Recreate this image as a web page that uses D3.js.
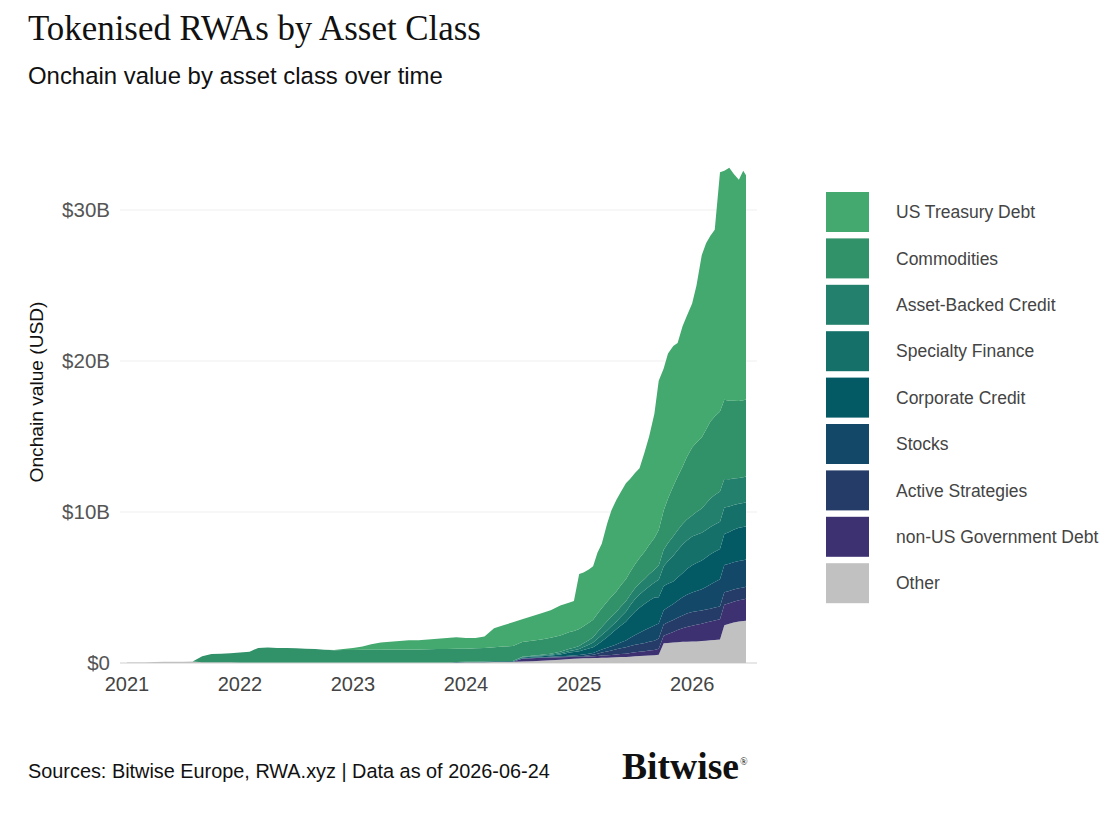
<!DOCTYPE html>
<html><head><meta charset="utf-8">
<script src="https://cdn.jsdelivr.net/npm/d3@7"></script>
<style>body{margin:0;background:#fff;} svg{display:block}</style>
</head><body>
<svg id="chart" width="1117" height="817"></svg>
<script>
// ---- DATA (values in $B) ----
const dates = [
"2021-01-01","2021-02-01","2021-03-01","2021-04-01","2021-05-01","2021-06-01","2021-07-01","2021-08-01","2021-09-01","2021-10-01","2021-11-01","2021-12-01",
"2022-01-01","2022-02-01","2022-03-01","2022-04-01","2022-05-01","2022-06-01","2022-07-01","2022-08-01","2022-09-01","2022-10-01","2022-11-01","2022-12-01",
"2023-01-01","2023-02-01","2023-03-01","2023-04-01","2023-05-01","2023-06-01","2023-07-01","2023-08-01","2023-09-01","2023-10-01","2023-11-01","2023-12-01",
"2024-01-01","2024-02-01","2024-03-01","2024-04-01","2024-05-01","2024-06-01","2024-07-01","2024-08-01","2024-09-01","2024-10-01","2024-11-01",
"2024-12-01","2024-12-15",
"2025-01-01","2025-01-15","2025-02-01","2025-02-15","2025-03-01","2025-03-15","2025-04-01","2025-04-15","2025-05-01","2025-05-15","2025-06-01","2025-06-15",
"2025-07-01","2025-07-15","2025-08-01","2025-08-15","2025-09-01","2025-09-15","2025-10-01","2025-10-15","2025-11-01","2025-11-15","2025-12-01","2025-12-15",
"2026-01-01","2026-01-15","2026-02-01","2026-02-15","2026-03-01","2026-03-15","2026-04-01","2026-04-15","2026-05-01","2026-05-15","2026-06-01","2026-06-15",
"2026-06-24"];

const other = [
.03,.03,.04,.07,.08,.08,.09,.10,.05,.05,.05,.05,
.04,.04,.04,.04,.04,.04,.04,.04,.04,.04,.04,.04,
.04,.04,.04,.04,.04,.04,.04,.04,.04,.04,.04,.04,
.05,.05,.05,.06,.07,.08,.10,.12,.15,.18,.22,
.26,.28,
.30,.31,.32,.33,.33,.34,.35,.36,.38,.39,.40,.42,
.45,.46,.48,.50,.52,.55,1.30,1.32,1.35,1.38,1.40,1.41,
1.42,1.43,1.45,1.48,1.50,1.52,1.55,2.50,2.60,2.68,2.75,2.78,
2.80];
const nonUSGov = [
0,0,0,0,0,0,0,0,0,0,0,0,
0,0,0,0,0,0,0,0,0,0,0,0,
0,0,0,0,0,0,0,0,0,0,0,0,
0,0,0,0,0,0,.18,.19,.19,.18,.16,
.13,.12,
.10,.10,.11,.12,.14,.15,.16,.17,.18,.20,.22,.24,
.26,.28,.30,.32,.34,.40,.50,.60,.70,.80,.90,.98,
1.05,1.10,1.15,1.20,1.25,1.30,1.35,1.35,1.35,1.38,1.40,1.42,
1.45];
const activeStrategies = [
0,0,0,0,0,0,0,0,0,0,0,0,
0,0,0,0,0,0,0,0,0,0,0,0,
0,0,0,0,0,0,0,0,0,0,0,0,
0,0,0,0,0,0,.01,.01,.01,.02,.02,
.04,.04,
.05,.06,.08,.10,.15,.20,.25,.30,.35,.38,.42,.46,
.50,.52,.55,.58,.62,.68,.75,.78,.80,.82,.85,.88,
.90,.89,.88,.86,.85,.85,.85,.84,.82,.81,.80,.80,
.80];
const stocks = [
0,0,0,0,0,0,0,0,0,0,0,0,
0,0,0,0,0,0,0,0,0,0,0,0,
0,0,0,0,0,0,0,0,0,0,0,0,
0,0,0,0,0,0,.02,.03,.03,.03,.04,
.05,.06,
.08,.09,.10,.12,.16,.20,.25,.28,.32,.38,.45,.55,
.65,.75,.85,.92,1.00,.98,.95,1.00,1.05,1.12,1.20,1.25,
1.30,1.35,1.40,1.50,1.60,1.70,1.80,1.80,1.80,1.80,1.80,1.80,
1.80];
const corporateCredit = [
0,0,0,0,0,0,0,0,0,0,0,0,
0,0,0,0,0,0,0,0,0,0,0,0,
0,0,0,0,0,0,0,0,0,0,0,.02,
.03,.04,.05,.05,.05,.05,.05,.06,.07,.09,.13,
.22,.23,
.25,.30,.35,.38,.45,.55,.70,.85,1.00,1.12,1.25,1.40,
1.55,1.65,1.75,1.80,1.85,1.75,1.60,1.55,1.50,1.55,1.60,1.70,
1.80,1.85,1.90,1.95,2.00,2.00,2.00,2.05,2.10,2.15,2.20,2.20,
2.20];
const specialtyFinance = [
0,0,0,0,0,0,0,0,0,0,0,0,
0,0,0,0,0,0,0,0,0,0,0,0,
0,0,0,0,0,0,0,0,0,0,0,0,
0,0,0,0,0,0,.02,.03,.04,.05,.07,
.10,.11,
.15,.20,.25,.30,.38,.42,.45,.48,.50,.58,.65,.75,
.85,.88,.90,.95,1.00,1.15,1.30,1.50,1.70,1.80,1.90,1.90,
1.90,1.88,1.85,1.82,1.80,1.80,1.80,1.75,1.70,1.65,1.60,1.60,
1.60];
const assetBackedCredit = [
0,0,0,0,0,0,0,0,0,0,0,0,
0,0,0,0,0,0,0,0,0,0,0,0,
0,0,0,0,0,0,0,0,0,0,0,0,
0,0,0,0,0,0,.03,.04,.05,.07,.10,
.15,.17,
.20,.25,.30,.35,.45,.52,.60,.62,.65,.68,.70,.70,
.70,.72,.75,.80,.85,.95,1.10,1.20,1.30,1.32,1.35,1.38,
1.40,1.50,1.60,1.75,1.90,1.95,2.00,1.90,1.80,1.75,1.70,1.70,
1.70];
const commodities = [
0,0,0,0,0,0,0,0,.40,.55,.57,.60,
.66,.71,.96,.98,.96,.96,.93,.91,.88,.84,.81,.82,
.82,.83,.84,.84,.85,.86,.86,.86,.87,.88,.89,.88,
.87,.88,.90,.94,.98,.99,.98,1.00,1.02,1.05,1.08,
1.10,1.11,
1.12,1.13,1.15,1.17,1.20,1.25,1.30,1.32,1.35,1.40,1.45,1.52,
1.60,1.70,1.80,1.95,2.10,2.35,2.60,2.95,3.30,3.55,3.80,4.15,
4.50,4.60,4.70,4.90,5.10,5.20,5.30,5.25,5.20,5.15,5.10,5.10,
5.10];
const usTreasury = [
0,0,0,0,0,0,0,0,0,0,0,0,
0,0,0,0,0,0,0,0,0,0,.01,.06,
.14,.23,.37,.47,.51,.55,.60,.60,.64,.68,.72,.76,
.70,.68,.75,1.25,1.40,1.58,1.51,1.62,1.74,1.83,1.98,
1.95,1.98,
3.65,3.56,3.54,3.53,4.04,4.27,5.14,5.72,6.07,6.17,6.36,6.16,
6.04,5.94,6.62,7.18,8.22,9.89,9.40,9.60,9.30,8.86,9.30,9.35,
9.53,10.40,12.07,12.34,12.30,12.38,15.85,15.16,15.43,15.03,14.65,15.20,
14.85];

// stack order bottom -> top
const seriesNames = ["Other","non-US Government Debt","Active Strategies","Stocks","Corporate Credit","Specialty Finance","Asset-Backed Credit","Commodities","US Treasury Debt"];
const seriesValues = [other,nonUSGov,activeStrategies,stocks,corporateCredit,specialtyFinance,assetBackedCredit,commodities,usTreasury];
const seriesColors = ["#c1c1c1","#3d3172","#263c68","#134868","#035a65","#15706a","#23806c","#319169","#43a96e"];
const yTicks = [0,10,20,30];
const xTickYears = [2021,2022,2023,2024,2025,2026];

// ---- BUILD ----
const parse = d3.timeParse("%Y-%m-%d");
const table = dates.map((d,i)=>{
  const row = {date: parse(d)};
  seriesNames.forEach((n,j)=> row[n] = seriesValues[j][i]);
  return row;
});

const svg = d3.select("#chart");
const sans = "'Liberation Sans', Arial, Helvetica, sans-serif";
const serif = "'Liberation Serif', 'Times New Roman', serif";

function fit(sel, w){
  const node = sel.node();
  const fs = parseFloat(sel.attr("font-size"));
  const len = node.getComputedTextLength();
  sel.attr("font-size", (fs*w/len).toFixed(2));
}

// Title & subtitle
fit(svg.append("text").attr("x",28).attr("y",40).attr("font-family",serif)
  .attr("font-size",36).attr("fill","#111").text("Tokenised RWAs by Asset Class"), 453);
fit(svg.append("text").attr("x",28).attr("y",84).attr("font-family",sans)
  .attr("font-size",22).attr("fill","#111").text("Onchain value by asset class over time"), 415);

const x = d3.scaleTime().domain([parse("2021-01-01"), parse("2026-06-24")]).range([127, 746]);
const y = d3.scaleLinear().domain([0,30]).range([663,210]);

// grid
svg.append("g").selectAll("line").data(yTicks).join("line")
  .attr("x1",120).attr("x2",757).attr("y1",d=>y(d)).attr("y2",d=>y(d))
  .attr("stroke",d=> d===0 ? "#cfcfcf" : "#efefef").attr("stroke-width",1);

// y axis labels
svg.append("g").selectAll("text").data(yTicks).join("text")
  .attr("x",110).attr("y",d=>y(d)).attr("dy","0.36em").attr("text-anchor","end")
  .attr("font-family",sans).attr("font-size",20.5).attr("fill","#555")
  .text(d=> d===0 ? "$0" : "$"+d+"B");

// y axis title
const yl = svg.append("text").attr("transform","translate(43,392) rotate(-90)")
  .attr("text-anchor","middle").attr("font-family",sans).attr("font-size",17).attr("fill","#111")
  .text("Onchain value (USD)");
fit(yl,181);

// stack
const stack = d3.stack().keys(seriesNames);
const layers = stack(table);
const area = d3.area().x(d=>x(d.data.date)).y0(d=>y(d[0])).y1(d=>y(d[1])).curve(d3.curveLinear);
svg.append("g").selectAll("path").data(layers).join("path")
  .attr("d",area).attr("fill",(d,i)=>seriesColors[i]);

// x axis labels
svg.append("g").selectAll("text").data(xTickYears).join("text")
  .attr("x",d=>x(new Date(d,0,1))).attr("y",691).attr("text-anchor","middle")
  .attr("font-family",sans).attr("font-size",20).attr("fill","#444").text(d=>d);

// legend
const legendOrder = seriesNames.slice().reverse();
const lg = svg.append("g").selectAll("g").data(legendOrder).join("g")
  .attr("transform",(d,i)=>`translate(826,${192 + i*46.4})`);
lg.append("rect").attr("width",43).attr("height",40)
  .attr("fill",d=>seriesColors[seriesNames.indexOf(d)]);
lg.append("text").attr("x",70).attr("y",20).attr("dy","0.36em")
  .attr("font-family",sans).attr("font-size",17.5).attr("fill","#444").text(d=>d);

// footer
fit(svg.append("text").attr("x",28).attr("y",778).attr("font-family",sans)
  .attr("font-size",19).attr("fill","#111").text("Sources: Bitwise Europe, RWA.xyz | Data as of 2026-06-24"), 522);
const logo = svg.append("text").attr("x",622).attr("y",779).attr("font-family",serif)
  .attr("font-size",34).attr("font-weight","bold").attr("fill","#111").text("Bitwise");
fit(logo,117);
svg.append("text").attr("x",740).attr("y",765).attr("font-family",serif)
  .attr("font-size",10).attr("fill","#111").text("®");
</script>
</body></html>
